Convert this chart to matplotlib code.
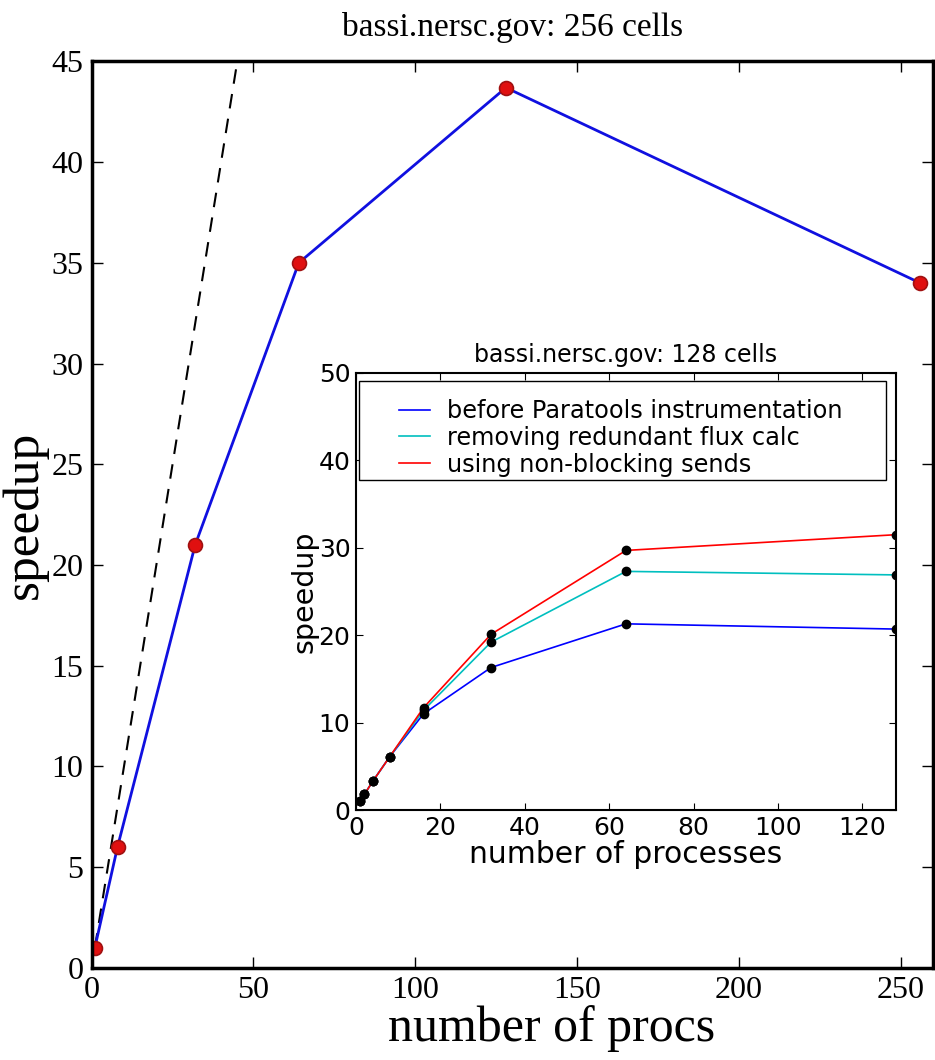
import numpy as np
import matplotlib
matplotlib.use("Agg")
import matplotlib.pyplot as plt
from matplotlib.patches import Rectangle

# main plot: 256 cells
procs_256 = [1, 8, 32, 64, 128, 256]
speedup_256 = [1.0, 6.0, 21.0, 35.0, 43.7, 34.0]
ideal = [1, 256]

# inset: 128 cells
procs_128 = [1, 2, 4, 8, 16, 32, 64, 128]
before = [1.0, 1.8, 3.3, 6.1, 11.0, 16.3, 21.3, 20.7]
redundant = [1.0, 1.8, 3.3, 6.1, 11.4, 19.2, 27.3, 26.9]
nonblocking = [1.0, 1.8, 3.3, 6.1, 11.7, 20.1, 29.7, 31.5]
labels = ["before Paratools instrumentation",
          "removing redundant flux calc",
          "using non-blocking sends"]

serif = ["Liberation Serif", "DejaVu Serif"]

fig = plt.figure(figsize=(9.35, 10.6), dpi=100)

ax = fig.add_axes([0.098, 0.087, 0.900, 0.855])
ax.plot(ideal, ideal, "k--", lw=1.5, dashes=(7, 5))
ax.plot(procs_256, speedup_256, "-", color="#1010e0", lw=2,
        marker="o", ms=10, mfc="#e01010", mec="#a01010", mew=1.2)
ax.set_xlim(0, 260)
ax.set_ylim(0, 45)
ax.set_xticks(np.arange(0, 251, 50))
ax.set_yticks(np.arange(0, 46, 5))
ax.tick_params(direction="in", top=True, right=True, length=8, width=1,
               labelsize=23)
ax.tick_params(axis="x", pad=6)
ax.tick_params(axis="y", pad=6)
for lab in ax.get_xticklabels() + ax.get_yticklabels():
    lab.set_family(serif)
for sp in ax.spines.values():
    sp.set_linewidth(2.5)
ax.set_title("bassi.nersc.gov: 256 cells", family=serif, fontsize=24, pad=18)
ax.set_xlabel("number of procs", family=serif, fontsize=36)
ax.xaxis.set_label_coords(0.546, -0.041, transform=ax.transAxes)
ax.set_ylabel("speedup", family=serif, fontsize=37)
ax.yaxis.set_label_coords(-0.052, 0.5, transform=ax.transAxes)

# inset
ins = fig.add_axes([356 / 935, 1 - 810 / 1060, 540 / 935, 437 / 1060])
ins.plot(procs_128, before, color="#0000ff", lw=1.2, label=labels[0])
ins.plot(procs_128, redundant, color="#00bfbf", lw=1.2, label=labels[1])
ins.plot(procs_128, nonblocking, color="#ff0000", lw=1.2, label=labels[2])
for s in (before, redundant, nonblocking):
    ins.plot(procs_128, s, "o", color="black", ms=6, zorder=5)
ins.set_xlim(0, 128)
ins.set_ylim(0, 50)
ins.set_xticks(np.arange(0, 121, 20))
ins.set_yticks(np.arange(0, 51, 10))
ins.tick_params(direction="in", top=True, right=True, length=5, width=0.8,
                labelsize=18, pad=4)
for sp in ins.spines.values():
    sp.set_linewidth(1.5)
ins.set_title("bassi.nersc.gov: 128 cells", fontsize=17, pad=8)
ins.set_xlabel("number of processes", fontsize=21.5, labelpad=0)
ins.set_ylabel("speedup", fontsize=20.5, labelpad=0)

ins.add_patch(Rectangle((0.006, 0.755), 0.975, 0.227, transform=ins.transAxes,
                        facecolor="white", edgecolor="black", lw=1, zorder=6))
leg = ins.legend(loc="upper center", bbox_to_anchor=(0.49, 0.99),
                 frameon=False, fontsize=17.3, handlelength=1.3,
                 handletextpad=0.7, labelspacing=0.12)
leg.set_zorder(7)

fig.savefig("out.png", dpi=100)
